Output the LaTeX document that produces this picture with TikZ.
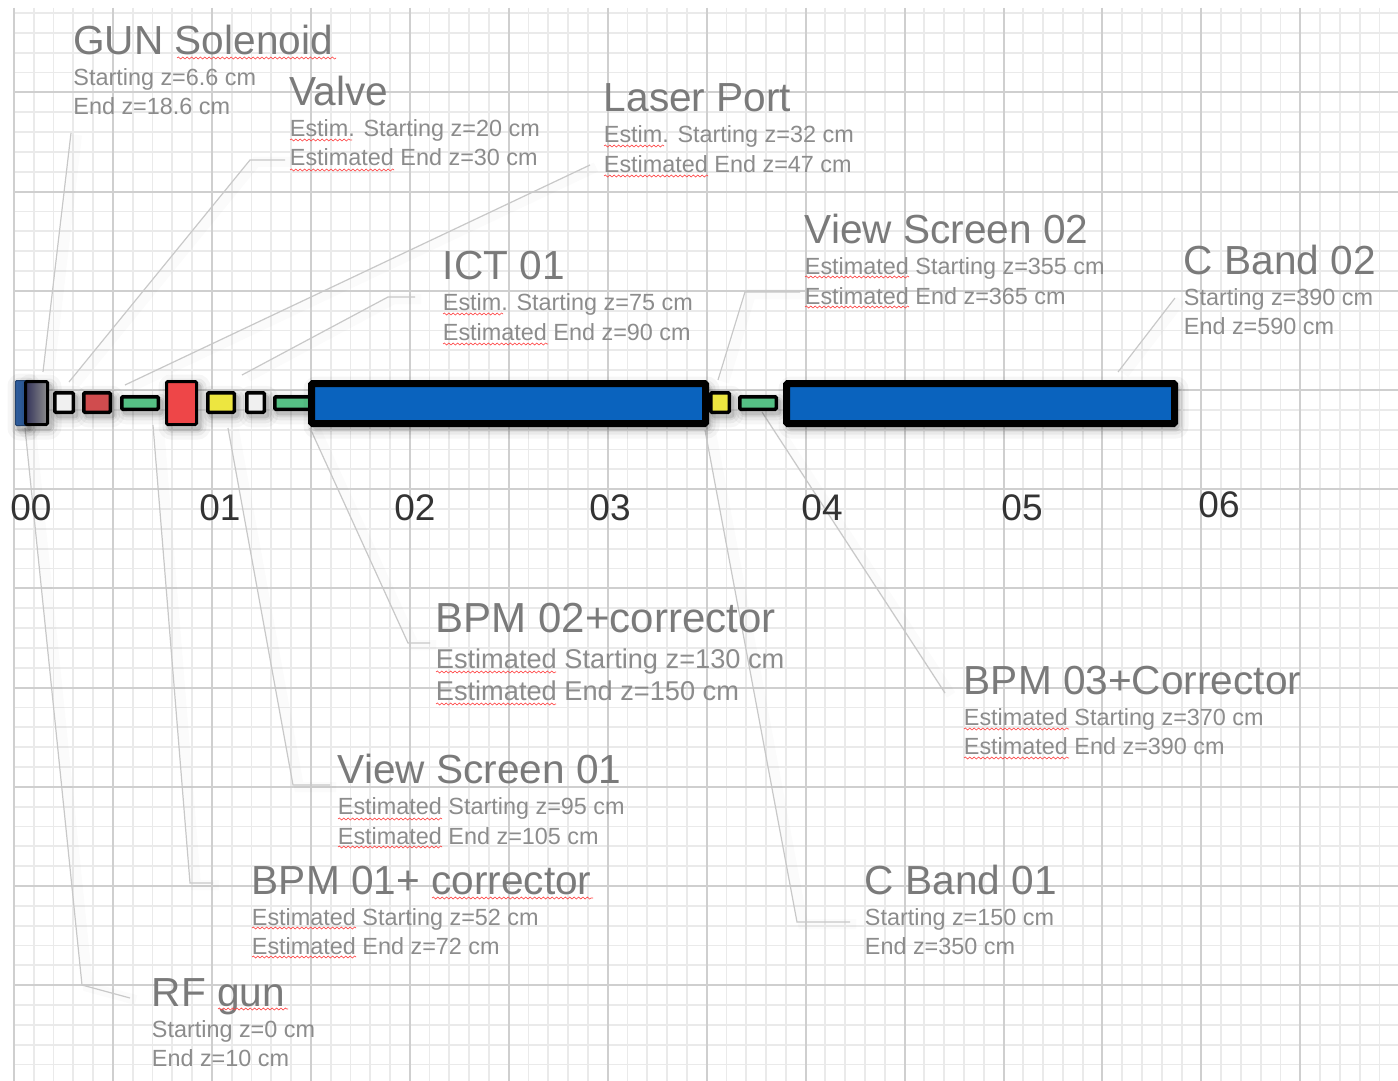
\documentclass[tikz,border=0pt]{standalone}
\usepackage{fontspec}
\setmainfont{Liberation Sans}
\usetikzlibrary{decorations.pathmorphing}
\definecolor{gridminor}{HTML}{EAEAEA}
\definecolor{gridmajor}{HTML}{CFCFCF}
\definecolor{titlegray}{HTML}{7A7A7A}
\definecolor{subgray}{HTML}{8C8C8C}
\definecolor{leadgray}{HTML}{C8C8C8}
\definecolor{beamblue}{HTML}{0A63BE}
\definecolor{bpmgreen}{HTML}{55C084}
\definecolor{valvered}{HTML}{D04C4E}
\definecolor{coilred}{HTML}{EE4648}
\definecolor{ictyellow}{HTML}{EDE640}
\definecolor{screenwhite}{HTML}{F0F0F0}
\definecolor{gunblue}{HTML}{2F5E9E}
\tikzset{
  softshadow/.style={
    preaction={draw=black,draw opacity=.035,line width=11pt,line join=round,transform canvas={xshift=1.5pt,yshift=-2pt}},
    preaction={draw=black,draw opacity=.05,line width=7pt,line join=round,transform canvas={xshift=1.5pt,yshift=-2pt}},
    preaction={draw=black,draw opacity=.07,line width=4pt,line join=round,transform canvas={xshift=1.5pt,yshift=-2pt}},
    preaction={draw=black,draw opacity=.10,line width=2pt,line join=round,transform canvas={xshift=1.5pt,yshift=-2pt}}},
  comp/.style={draw=black,rectangle,rounded corners=.6pt,inner sep=0pt,outer sep=0pt,softshadow},
  leader/.style={draw=leadgray,line width=.6pt,
    preaction={draw=black,draw opacity=.015,line width=5pt,transform canvas={xshift=3pt,yshift=-1pt}}},
  squig/.style={draw=red!75!white,line width=.3pt,decorate,decoration={snake,amplitude=.5pt,segment length=2.2pt}},
  ltitle/.style={anchor=base west,inner sep=0pt,text=titlegray,font=\fontsize{20.3}{22}\selectfont},
  lsub/.style={anchor=base west,inner sep=0pt,text=subgray,font=\fontsize{11.7}{14}\selectfont},
  axisnum/.style={anchor=center,inner sep=0pt,text=black!80,font=\fontsize{18.5}{20}\selectfont}
}
% name, x1, x2, y1, y2, line width (px), style
\newcommand{\comppart}[7]{\node[comp,line width=#6*0.5pt,minimum width={(#3-#2-#6)*0.5pt},minimum height={(#5-#4-#6)*0.5pt},#7] (#1) at ({(#2+#3)/2},{(#4+#5)/2}) {};}
% name, x, y (title baseline), title, y1, line 1, y2, line 2
\newcommand{\labelblock}[8]{%
  \node[ltitle] (#1t) at (#2,#3) {#4};
  \node[lsub] (#1a) at (#2,#5) {#6};
  \node[lsub] (#1b) at (#2,#7) {#8};}
\newcommand{\wavy}[3]{\draw[squig] (#1,#3) -- (#2,#3);}
\begin{document}
\begin{tikzpicture}[x=0.5pt,y=-0.5pt]
\useasboundingbox (0,0) rectangle (1398,1081);
\fill[white] (0,0) rectangle (1398,1081);
% grid
\foreach \k in {0,...,70} {
  \pgfmathsetmacro{\xx}{14+19.79*\k}
  \draw[gridminor,line width=.9pt] (\xx,8) -- (\xx,1081);
}
\foreach \k in {-19,...,34} {
  \pgfmathsetmacro{\yy}{390+19.84*\k}
  \draw[gridminor,line width=.9pt] (13,\yy) -- (1398,\yy);
}
\foreach \k in {0,...,14} {
  \pgfmathsetmacro{\xx}{14+98.95*\k}
  \draw[gridmajor,line width=1pt] (\xx,8) -- (\xx,1081);
}
\foreach \k in {-3,...,6} {
  \pgfmathsetmacro{\yy}{390+99.2*\k}
  \draw[gridmajor,line width=1pt] (13,\yy) -- (1398,\yy);
}
% leader lines
\coordinate (gA) at (71,133); \coordinate (gB) at (43,372);
\coordinate (vA) at (285,160); \coordinate (vB) at (250,160); \coordinate (vC) at (69,382);
\coordinate (lA) at (590,165); \coordinate (lB) at (125,385);
\coordinate (iA) at (415,297); \coordinate (iB) at (388,297); \coordinate (iC) at (242,375);
\coordinate (sA) at (800,292); \coordinate (sB) at (745,292); \coordinate (sC) at (718,380);
\coordinate (cA) at (1175,298); \coordinate (cB) at (1118,372);
\coordinate (rA) at (25,428); \coordinate (rB) at (82,985); \coordinate (rC) at (130,998);
\coordinate (bA) at (153,425); \coordinate (bB) at (190,883); \coordinate (bC) at (213,883);
\coordinate (tA) at (228,428); \coordinate (tB) at (293,785); \coordinate (tC) at (330,785);
\coordinate (dA) at (310,428); \coordinate (dB) at (408,643); \coordinate (dC) at (430,643);
\coordinate (eA) at (705,430); \coordinate (eB) at (797,922); \coordinate (eC) at (850,922);
\coordinate (fA) at (762,412); \coordinate (fB) at (945,693);
\draw[leader] (gA) -- (gB);
\draw[leader] (vA) -- (vB) -- (vC);
\draw[leader] (lA) -- (lB);
\draw[leader] (iA) -- (iB) -- (iC);
\draw[leader] (sA) -- (sB) -- (sC);
\draw[leader] (cA) -- (cB);
\draw[leader] (rA) -- (rB) -- (rC);
\draw[leader] (bA) -- (bB) -- (bC);
\draw[leader] (tA) -- (tB) -- (tC);
\draw[leader] (dA) -- (dB) -- (dC);
\draw[leader] (eA) -- (eB) -- (eC);
\draw[leader] (fA) -- (fB);
% beamline
\comppart{gunpart}{15}{27}{380}{426}{1}{draw=gunblue!70!black,fill=gunblue}
\comppart{solenoid}{24}{49}{380}{426}{3}{left color=black!75!blue!60!gray,right color=black!45}
\comppart{screenA}{53}{75}{391}{414}{3.5}{fill=screenwhite}
\comppart{valve}{82}{112}{391}{414}{3.5}{fill=valvered}
\comppart{bpmA}{120}{160}{395}{411}{3.5}{fill=bpmgreen}
\comppart{coil}{165}{198}{380}{426}{3}{fill=coilred}
\comppart{ict}{206}{236}{391}{414}{3.5}{fill=ictyellow}
\comppart{screenB}{245}{266}{391}{414}{3.5}{fill=screenwhite}
\comppart{bpmB}{273}{314}{395}{411}{3.5}{fill=bpmgreen}
\comppart{bandA}{308}{709}{380}{427}{7}{fill=beamblue}
\comppart{screenC}{709}{731}{391}{414}{3.5}{fill=ictyellow}
\comppart{bpmC}{738}{778}{395}{411}{3.5}{fill=bpmgreen}
\comppart{bandB}{783}{1178}{380}{427}{7}{fill=beamblue}
% axis
\node[axisnum] (n00) at (31,508) {00};
\node[axisnum] (n01) at (220,508) {01};
\node[axisnum] (n02) at (415,508) {02};
\node[axisnum] (n03) at (610,508) {03};
\node[axisnum] (n04) at (822,508) {04};
\node[axisnum] (n05) at (1022,508) {05};
\node[axisnum] (n06) at (1219,505) {06};
% labels
\labelblock{gs}{73}{55}{GUN Solenoid}{86}{Starting z=6.6 cm}{115}{End z=18.6 cm}
\labelblock{va}{289.5}{106}{Valve}{137}{Estim. Starting z=20 cm}{166}{Estimated End z=30 cm}
\labelblock{lp}{603.5}{112}{Laser Port}{142}{Estim. Starting z=32 cm}{172}{Estimated End z=47 cm}
\labelblock{ic}{442.5}{279}{ICT 01}{310}{Estim. Starting z=75 cm}{340}{Estimated End z=90 cm}
\labelblock{vt}{804.5}{243}{View Screen 02}{274}{Estimated Starting z=355 cm}{304}{Estimated End z=365 cm}
\labelblock{cb}{1183.5}{274}{C Band 02}{305}{Starting z=390 cm}{334}{End z=590 cm}
\node[ltitle,font=\fontsize{21}{23}\selectfont] (bdt) at (435.5,632) {BPM 02+corrector};
\node[lsub,font=\fontsize{13.6}{16}\selectfont] (bda) at (435.5,668) {Estimated Starting z=130 cm};
\node[lsub,font=\fontsize{13.6}{16}\selectfont] (bdb) at (435.5,700) {Estimated End z=150 cm};
\labelblock{be}{963.5}{694}{BPM 03+Corrector}{725}{Estimated Starting z=370 cm}{754}{Estimated End z=390 cm}
\labelblock{vo}{337.5}{783}{View Screen 01}{814}{Estimated Starting z=95 cm}{844}{Estimated End z=105 cm}
\labelblock{bo}{251.5}{894}{BPM 01+ corrector}{925}{Estimated Starting z=52 cm}{954}{Estimated End z=72 cm}
\labelblock{ca}{864.5}{894}{C Band 01}{925}{Starting z=150 cm}{954}{End z=350 cm}
\labelblock{rf}{151.5}{1006}{RF gun}{1037}{Starting z=0 cm}{1066}{End z=10 cm}
% spell-check underlines
\wavy{177}{336}{58}
\wavy{290}{352}{140}\wavy{290}{394}{170}
\wavy{604}{664}{146}\wavy{604}{708}{176}
\wavy{443}{503}{314}\wavy{443}{548}{344}
\wavy{805}{909}{277}\wavy{805}{909}{307}
\wavy{436}{556}{672}\wavy{436}{556}{704}
\wavy{964}{1069}{729}\wavy{964}{1069}{758}
\wavy{338}{442}{819}\wavy{338}{442}{847}
\wavy{252}{356}{928}\wavy{252}{356}{957}
\wavy{432}{593}{898}
\wavy{218}{288}{1009}
\end{tikzpicture}
\end{document}
